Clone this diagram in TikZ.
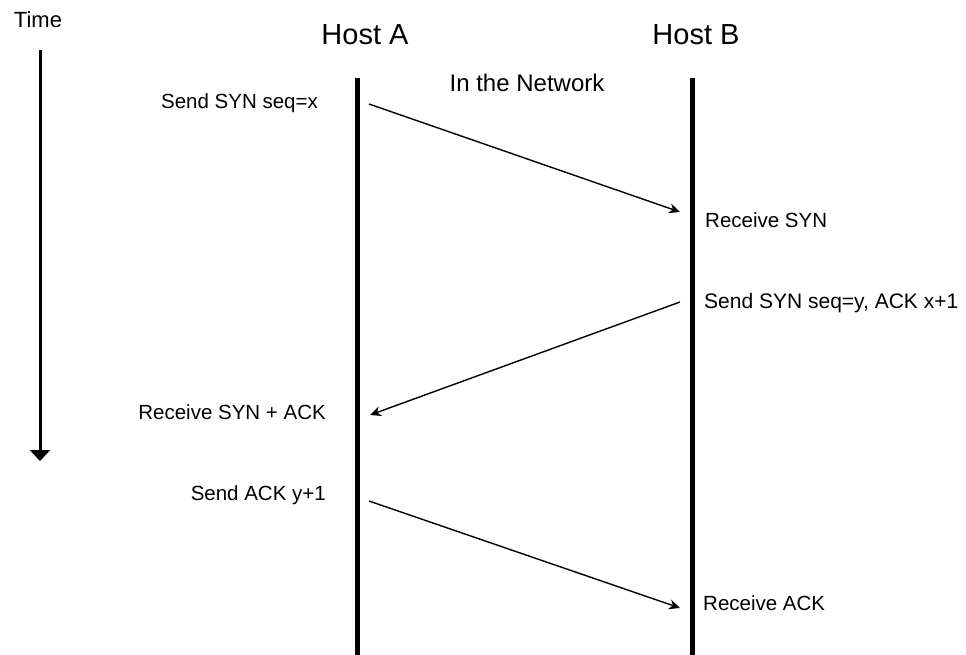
\documentclass[tikz,border=0pt]{standalone}
\usepackage{fontspec}
\setmainfont{Liberation Sans}
\usetikzlibrary{arrows.meta}
\begin{document}
\begin{tikzpicture}[x=1pt,y=-1pt,
  lbl/.style={inner sep=0pt,font=\fontsize{20.5}{22}\selectfont},
  host/.style={inner sep=0pt,font=\fontsize{29}{32}\selectfont},
  lifeline/.style={line width=5pt},
  msg/.style={line width=1.4pt,-{Stealth[length=11pt,width=10pt]}}]
\useasboundingbox (0,0) rectangle (966,655);
% title texts
\node[inner sep=0pt,font=\fontsize{22}{24}\selectfont] (time) at (38,20) {Time};
\node[host] (hostA) at (365,35) {Host A};
\node[host] (hostB) at (696,35) {Host B};
\node[inner sep=0pt,font=\fontsize{24}{26}\selectfont] (net) at (527,83) {In the Network};
% time arrow
\coordinate (t1) at (40,50);
\coordinate (t2) at (40,461);
\draw[line width=3pt,-{Triangle[length=11pt,width=20pt]}] (t1) -- (t2);
% lifelines
\coordinate (a1) at (357,78);
\coordinate (a2) at (357,655);
\coordinate (b1) at (692,78);
\coordinate (b2) at (692,655);
\draw[lifeline] (a1) -- (a2);
\draw[lifeline] (b1) -- (b2);
% message endpoints
\coordinate (m1s) at (369,104);
\coordinate (m1e) at (680,212);
\coordinate (m2s) at (680,302);
\coordinate (m2e) at (370,415);
\coordinate (m3s) at (369,501);
\coordinate (m3e) at (680,608);
\draw[msg] (m1s) -- (m1e);
\draw[msg] (m2s) -- (m2e);
\draw[msg] (m3s) -- (m3e);
% labels
\node[lbl,anchor=east] (l1) at (318,103) {Send SYN seq=x};
\node[lbl,anchor=west] (l2) at (705,220) {Receive SYN};
\node[lbl,anchor=west] (l3) at (704,303) {\fontsize{21}{23}\selectfont Send SYN seq=y, ACK x+1};
\node[lbl,anchor=east] (l4) at (326,412) {Receive SYN + ACK};
\node[lbl,anchor=east] (l5) at (326,495) {Send ACK y+1};
\node[lbl,anchor=west] (l6) at (703,603) {Receive ACK};
\end{tikzpicture}
\end{document}
